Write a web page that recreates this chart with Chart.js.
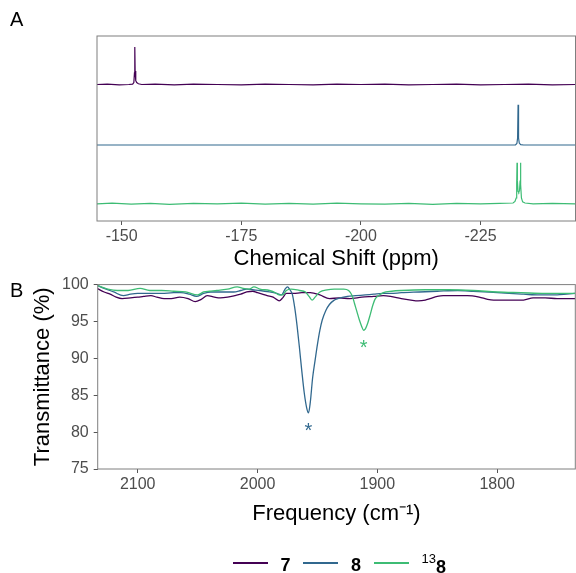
<!DOCTYPE html>
<html>
<head>
<meta charset="utf-8">
<script src="https://cdn.jsdelivr.net/npm/chart.js@4.4.1/dist/chart.umd.min.js"></script>
<style>
  body { margin: 0; background: #fff; font-family: Arial, "Liberation Sans", sans-serif; }
  #wrap { position: relative; width: 576px; height: 573px; overflow: hidden; }
  canvas { position: absolute; left: 0; }
  #nmr { top: 0; }
  #ir { top: 270px; }
  .tag { position: absolute; font-size: 20px; line-height: 1; color: #000; }
  .key { position: absolute; height: 2px; }
  .lab { position: absolute; font-size: 18px; font-weight: bold; line-height: 1; color: #000; white-space: nowrap; }
  .lab sup { font-size: 13px; font-weight: normal; vertical-align: baseline; position: relative; top: -10px; }
</style>
</head>
<body>
<div id="wrap">
  <canvas id="nmr" width="576" height="280"></canvas>
  <canvas id="ir" width="576" height="303"></canvas>
  <div class="tag" style="left:10px;top:9px">A</div>
  <div class="tag" style="left:10px;top:280px">B</div>
  <div id="legend"></div>
</div>
<script>
// series
const seriesNames = ['7', '8', '<sup>13</sup>8'];
const seriesColors = ['#440154', '#31688E', '#3dbc74'];

// panel A: 19F NMR (ppm, relative intensity)
const nmrShift7 = [-144.85, -147, -149.5, -151.5, -152.3, -152.55, -152.68, -152.75, -152.82, -152.95, -153.15, -153.5, -154.2, -157, -161, -165, -170, -175, -180, -185, -190, -195, -200, -205, -210, -215, -220, -225, -230, -235, -240, -244.85];
const nmrInt7 = [0, 0.01, -0.01, 0, 0.01, 0.05, 0.3, 0.97, 0.35, 0.1, 0.05, 0.02, 0, 0.01, -0.01, 0.01, 0, -0.01, 0.01, 0, -0.01, 0.01, 0, 0.01, -0.01, 0, 0.01, -0.01, 0, 0.01, -0.01, 0];

const nmrShift8 = [-144.85, -160, -180, -200, -220, -230, -232.3, -232.6, -232.75, -232.85, -232.95, -233.1, -233.4, -234, -240, -244.85];
const nmrInt8 = [0, 0, 0, 0, 0, 0, 0, 0.04, 0.18, 1.04, 0.18, 0.05, 0.01, 0, 0, 0];

const nmrShift13 = [-144.85, -148, -152, -156, -160, -165, -170, -175, -180, -185, -190, -195, -200, -205, -210, -215, -220, -225, -229, -231.8, -232.2, -232.45, -232.56, -232.63, -232.7, -232.85, -233.0, -233.15, -233.28, -233.35, -233.42, -233.55, -233.8, -234.3, -236, -240, -244.85];
const nmrInt13 = [0, 0.015, -0.01, 0.01, -0.015, 0.01, 0, 0.015, -0.01, 0.01, -0.01, 0.015, 0, -0.01, 0.01, -0.015, 0.01, 0, 0.01, 0.02, 0.06, 0.15, 0.5, 1.06, 0.6, 0.32, 0.3, 0.34, 0.6, 1.06, 0.5, 0.15, 0.05, 0.02, 0, 0.01, 0];

const nmrTicks = [-150, -175, -200, -225];
const nmrStack = [3.536, 1.969, 0.446];

// panel B: IR (cm-1, % transmittance)
const irFreq7 = [2134, 2128, 2123, 2118, 2113, 2106, 2100, 2095, 2089, 2084, 2078, 2072, 2065, 2058, 2052, 2047, 2042, 2036, 2031, 2025, 2019, 2014, 2009, 2004, 2000, 1996, 1992, 1987, 1982, 1979, 1976, 1970, 1963, 1956, 1948, 1940, 1932, 1923, 1913, 1903, 1895, 1889, 1880, 1872, 1866, 1860, 1856, 1850, 1845, 1835, 1825, 1815, 1808, 1803, 1795, 1785, 1778, 1770, 1760, 1750, 1735];
const irT7 = [99.5, 99.0, 98.7, 98.3, 98.1, 98.2, 98.3, 98.4, 98.5, 98.3, 98.1, 98.1, 98.3, 98.1, 97.7, 98.0, 98.5, 98.3, 98.2, 98.3, 98.5, 98.7, 99.0, 99.1, 98.9, 98.7, 98.5, 98.3, 97.8, 98.2, 98.8, 98.8, 98.9, 98.9, 98.6, 98.1, 98.2, 98.1, 98.3, 98.4, 98.5, 98.4, 98.1, 97.9, 97.8, 97.9, 98.1, 98.4, 98.5, 98.5, 98.5, 98.3, 98.0, 97.9, 97.9, 97.9, 97.9, 98.2, 98.2, 98.1, 98.1];

const irFreq8 = [2134, 2128, 2120, 2112, 2106, 2100, 2090, 2080, 2070, 2064, 2057, 2051, 2045, 2039, 2030, 2020, 2014, 2009, 2004, 1998, 1990, 1984, 1980, 1977, 1975, 1973, 1971, 1969, 1967, 1965, 1963, 1961, 1959, 1957.5, 1956, 1954, 1952, 1950, 1948, 1946, 1943, 1940, 1936, 1933, 1925, 1918, 1910, 1903, 1895, 1889, 1880, 1865, 1850, 1833, 1820, 1800, 1790, 1778, 1765, 1750, 1742, 1735];
const irT8 = [99.9, 99.5, 99.0, 98.5, 98.7, 98.8, 98.8, 98.8, 98.9, 98.9, 98.7, 98.4, 98.8, 99.0, 99.0, 99.0, 99.2, 99.4, 99.3, 99.2, 99.0, 98.8, 98.6, 99.4, 99.7, 99.3, 98.7, 96.9, 94.4, 91.4, 88.2, 85.3, 83.3, 82.6, 84.0, 87.4, 89.7, 91.9, 93.8, 95.2, 96.5, 97.3, 97.9, 98.1, 98.4, 98.5, 98.6, 98.7, 98.8, 98.8, 98.9, 99.0, 99.1, 99.2, 99.1, 98.9, 98.8, 98.7, 98.6, 98.6, 98.7, 98.8];

const irFreq13 = [2134, 2125, 2117, 2108, 2098, 2090, 2080, 2070, 2060, 2050, 2045, 2040, 2034, 2025, 2017, 2012, 2007, 2003, 1998, 1990, 1985, 1982, 1979, 1976, 1972, 1965, 1960, 1957, 1954.5, 1952, 1948, 1942, 1936, 1928, 1924, 1921, 1919, 1917, 1915, 1913, 1911.5, 1910, 1908, 1906, 1904, 1902, 1899, 1895, 1888, 1880, 1860, 1840, 1820, 1800, 1780, 1760, 1735];
const irT13 = [99.9, 99.4, 99.2, 99.2, 99.5, 99.2, 99.2, 99.1, 99.0, 98.6, 99.0, 99.1, 99.2, 99.4, 99.7, 99.5, 99.4, 99.7, 99.4, 99.2, 98.9, 98.6, 98.6, 99.2, 99.4, 99.2, 99.0, 98.4, 97.9, 98.3, 99.0, 99.3, 99.4, 99.4, 99.2, 98.5, 97.4, 96.3, 95.2, 94.3, 93.8, 94.0, 94.8, 95.9, 97.1, 98.0, 98.5, 98.9, 99.1, 99.2, 99.3, 99.3, 99.2, 99.0, 98.9, 98.8, 98.8];

const irTicksX = [1800, 1900, 2000, 2100];
const irTicksY = [75, 80, 85, 90, 95, 100];
const starredSeries = [1, 2];

Chart.defaults.font.family = 'Arial, "Liberation Sans", sans-serif';
Chart.defaults.animation = false;

const pts = (xs, ys, off) => xs.map((x, i) => ({ x: x, y: ys[i] + (off || 0) }));
const plain = v => String(v);

const panelBorder = {
  id: 'panelBorder',
  afterDraw(chart) {
    const { ctx, chartArea: a } = chart;
    ctx.save();
    ctx.strokeStyle = '#7f7f7f';
    ctx.lineWidth = 1;
    ctx.strokeRect(a.left, a.top, a.right - a.left, a.bottom - a.top);
    ctx.restore();
  }
};

const peakStars = {
  id: 'peakStars',
  afterDatasetsDraw(chart) {
    const { ctx, scales: { x, y } } = chart;
    ctx.save();
    ctx.font = '20px Arial, "Liberation Sans", sans-serif';
    ctx.textAlign = 'center';
    ctx.textBaseline = 'alphabetic';
    starredSeries.forEach(i => {
      const ds = chart.data.datasets[i];
      const low = ds.data.reduce((m, p) => (p.y < m.y ? p : m));
      ctx.fillStyle = ds.borderColor;
      ctx.fillText('*', x.getPixelForValue(low.x), y.getPixelForValue(low.y) + 24);
    });
    ctx.restore();
  }
};

const tickFont = { size: 16 };
const tickGrid = { drawOnChartArea: false, drawTicks: true, tickLength: 4, tickColor: '#555' };

new Chart(document.getElementById('nmr'), {
  type: 'line',
  data: {
    datasets: [
      { data: pts(nmrShift7, nmrInt7, nmrStack[0]), borderColor: seriesColors[0] },
      { data: pts(nmrShift8, nmrInt8, nmrStack[1]), borderColor: seriesColors[1] },
      { data: pts(nmrShift13, nmrInt13, nmrStack[2]), borderColor: seriesColors[2] }
    ]
  },
  options: {
    responsive: false,
    layout: { padding: { left: 97, top: 36, right: 0.5, bottom: 0 } },
    elements: { point: { radius: 0 }, line: { borderWidth: 1.2, tension: 0 } },
    plugins: { legend: { display: false }, tooltip: { enabled: false } },
    scales: {
      x: {
        type: 'linear', min: -244.85, max: -144.85, reverse: true,
        afterBuildTicks: s => { s.ticks = nmrTicks.map(v => ({ value: v })); },
        afterFit: s => { s.height = 59; },
        ticks: { font: tickFont, color: '#4d4d4d', padding: 1.5, callback: plain },
        grid: tickGrid,
        border: { display: false },
        title: { display: true, text: 'Chemical Shift (ppm)', color: '#000', font: { size: 22 }, padding: { top: 0, bottom: 7.8 } }
      },
      y: { display: false, min: 0, max: 4.793 }
    }
  },
  plugins: [panelBorder]
});

new Chart(document.getElementById('ir'), {
  type: 'line',
  data: {
    datasets: [
      { data: pts(irFreq7, irT7), borderColor: seriesColors[0], order: 2 },
      { data: pts(irFreq8, irT8), borderColor: seriesColors[1], order: 1 },
      { data: pts(irFreq13, irT13), borderColor: seriesColors[2], order: 0 }
    ]
  },
  options: {
    responsive: false,
    layout: { padding: { left: 0, top: 14, right: 0.7, bottom: 44 } },
    elements: { point: { radius: 0 }, line: { borderWidth: 1.3, cubicInterpolationMode: 'monotone' } },
    plugins: { legend: { display: false }, tooltip: { enabled: false } },
    scales: {
      x: {
        type: 'linear', min: 1734.8, max: 2133.4, reverse: true,
        afterBuildTicks: s => { s.ticks = irTicksX.map(v => ({ value: v })); },
        afterFit: s => { s.height = 60; },
        ticks: { font: tickFont, color: '#4d4d4d', padding: 2, callback: plain },
        grid: tickGrid,
        border: { display: false },
        title: { display: true, text: 'Frequency (cm\u207B\u00B9)', color: '#000', font: { size: 22 }, padding: { top: 0, bottom: 1.6 } }
      },
      y: {
        min: 75, max: 100,
        afterBuildTicks: s => { s.ticks = irTicksY.map(v => ({ value: v })); },
        afterFit: s => { s.width = 97.7; },
        ticks: { font: tickFont, color: '#4d4d4d', padding: 5, callback: plain },
        grid: tickGrid,
        border: { display: false },
        title: { display: true, text: 'Transmittance (%)', color: '#000', font: { size: 22 }, padding: { top: 29.8, bottom: 0 } }
      }
    }
  },
  plugins: [panelBorder, peakStars]
});

// legend
const legend = document.getElementById('legend');
seriesNames.forEach((name, i) => {
  const x0 = 232.5 + i * 70.5;
  const key = document.createElement('div');
  key.className = 'key';
  key.style.cssText = 'left:' + x0 + 'px;top:562px;width:35px;background:' + seriesColors[i];
  legend.appendChild(key);
  const lab = document.createElement('div');
  lab.className = 'lab';
  lab.style.left = (x0 + 48) + 'px';
  lab.style.top = (i === 2 ? 558 : 556) + 'px';
  lab.innerHTML = name;
  legend.appendChild(lab);
});
</script>
</body>
</html>
